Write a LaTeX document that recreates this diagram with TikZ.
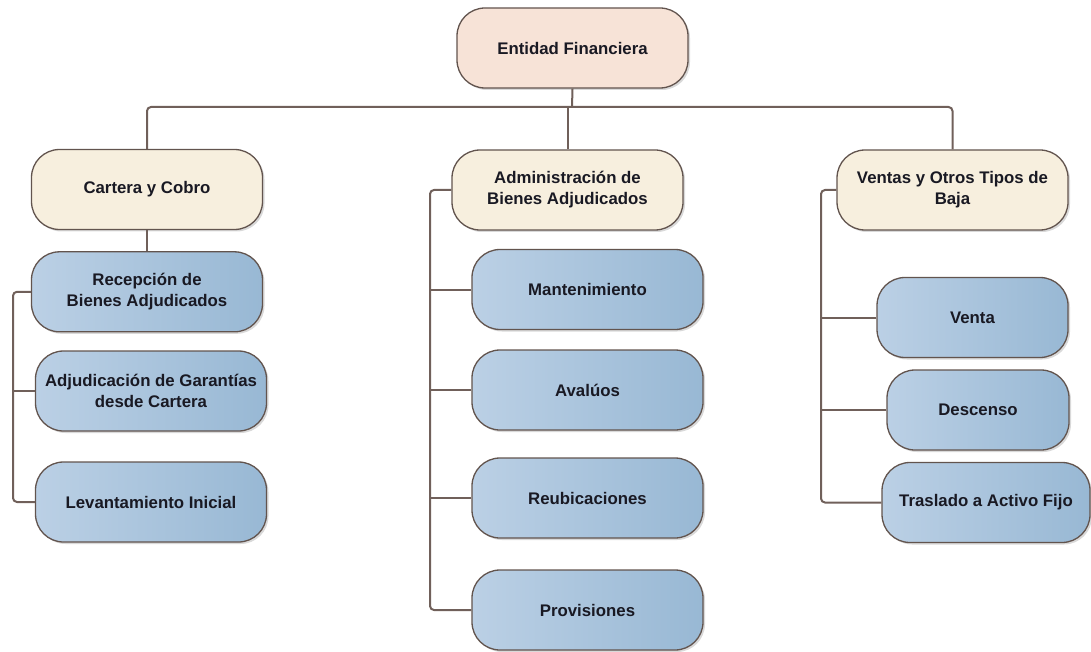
\documentclass[tikz,border=0pt]{standalone}
\usepackage{fontspec}
\setmainfont{Liberation Sans}
\usepackage{tikz}
\usetikzlibrary{positioning,shadows}

\definecolor{linkbrown}{RGB}{112,96,90}
\definecolor{boxline}{RGB}{98,84,78}
\definecolor{headfill}{RGB}{247,227,215}
\definecolor{areafill}{RGB}{247,239,222}
\definecolor{taskA}{RGB}{187,208,229}
\definecolor{taskB}{RGB}{152,184,212}
\definecolor{textdark}{RGB}{25,25,35}

\begin{document}
\begin{tikzpicture}[x=1pt, y=-1pt]
% STYLES
\tikzset{%
    unit/.style={%
rectangle,
rounded corners=28pt,
draw=boxline,
line width=1.3pt,
minimum width=231pt,
minimum height=80pt,
inner sep=4pt,
align=center,
font=\fontsize{16.8}{21}\selectfont\bfseries,
text=textdark,
drop shadow={shadow xshift=2pt, shadow yshift=-2pt, opacity=0.3}
                          },
    head/.style={unit, fill=headfill},
    area/.style={unit, fill=areafill},
    task/.style={unit, left color=taskA, right color=taskB},
    link/.style={draw=linkbrown, line width=2pt, rounded corners=4pt}
             }
\useasboundingbox (0,0) rectangle (1091,652);

% Draw the top
\node [head] (entidad) at (572.5,48) {Entidad Financiera};

% Draw the areas
\node [area] (cartera) at (147,189.5) {Cartera y Cobro};
\node [area] (admin) at (567.5,190) {Administración de\\Bienes Adjudicados};
\node [area] (ventas) at (952.5,190) {Ventas y Otros Tipos de\\Baja};

% Draw the tasks of each area
\node [task, below=21pt of cartera] (recepcion) {Recepción de\\Bienes Adjudicados};
\node [task] (adjudicacion) at (151,391) {Adjudicación de Garantías\\desde Cartera};
\node [task] (levantamiento) at (151,502) {Levantamiento Inicial};

\node [task] (mantenimiento) at (587.5,289.5) {Mantenimiento};
\node [task] (avaluos) at (587.5,390) {Avalúos};
\node [task] (reubicaciones) at (587.5,498) {Reubicaciones};
\node [task] (provisiones) at (587.5,610) {Provisiones};

\node [task, minimum width=191pt] (venta) at (972.5,317.5) {Venta};
\node [task, minimum width=182pt] (descenso) at (978,410) {Descenso};
\node [task, minimum width=208pt] (traslado) at (986,502.5) {Traslado a Activo Fijo};

% Draw the links
\coordinate (bus) at (572,107);
\coordinate (lbus) at (13,0);
\coordinate (mbus) at (430,0);
\coordinate (rbus) at (821,0);

\draw[link] (entidad.south) -- (bus);
\draw[link] (cartera.north) |- (bus) -| (ventas.north);
\draw[link] (admin.north) -- (admin.north |- bus);

\draw[link] (cartera.south) -- (recepcion.north);
\draw[link] (recepcion.west) -| (lbus |- levantamiento.west) -- (levantamiento.west);
\draw[link] (adjudicacion.west) -- (adjudicacion.west -| lbus);

\draw[link] (admin.west) -| (mbus |- provisiones.west) -- (provisiones.west);
\draw[link] (mantenimiento.west) -- (mantenimiento.west -| mbus);
\draw[link] (avaluos.west) -- (avaluos.west -| mbus);
\draw[link] (reubicaciones.west) -- (reubicaciones.west -| mbus);

\draw[link] (ventas.west) -| (rbus |- traslado.west) -- (traslado.west);
\draw[link] (venta.west) -- (venta.west -| rbus);
\draw[link] (descenso.west) -- (descenso.west -| rbus);
\end{tikzpicture}
\end{document}
